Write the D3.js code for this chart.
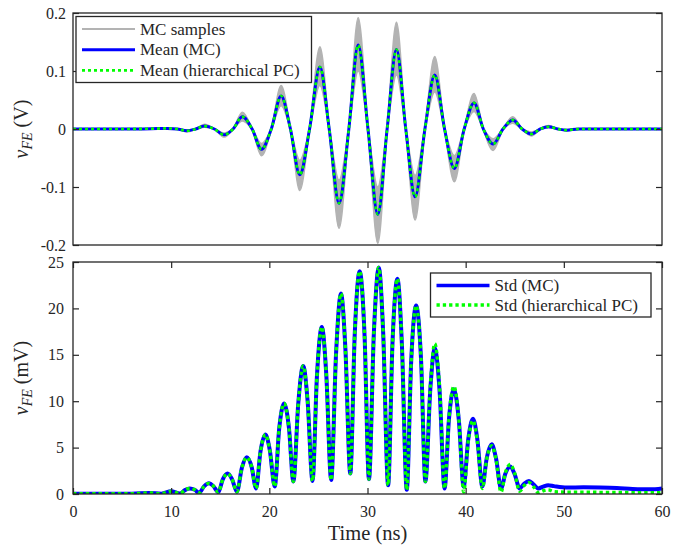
<!DOCTYPE html>
<html>
<head>
<meta charset="utf-8">
<script src="https://cdn.jsdelivr.net/npm/d3@7"></script>
<style>
  body { margin: 0; background: #fff; }
  svg text { font-family: "Liberation Serif", "DejaVu Serif", "Times New Roman", serif !important; fill: #262626; }
</style>
</head>
<body>
<div id="chart"></div>
<script>
// ---- data ----
// top panel: time (ns) of extrema / zero crossings
const tMean = [0,5,8,9.6,10.6, 11.6,12.5,13.4,14.4,15.4, 16.3,17.25,18.25,19.2,20.2, 21.2,22.15,23.1,24.1,25.15,
  26.1,27.1,28.1,29.05,30.05, 31.05,32,32.95,33.9,34.85, 35.85,36.85,37.85,38.85,39.85, 40.85,41.8,42.8,43.8,44.8,
  45.75,46.7,47.6,48.45,49.4, 50.3,51.5,60];
// mean voltage (V)
const meanMC = [0,0,0.0005,0.001,0, -0.003,0,0.005,0,-0.010, 0,0.021,0,-0.035,0, 0.057,0,-0.079,0,0.107,
  0,-0.128,0,0.145,0, -0.147,0,0.137,0,-0.117, 0,0.093,0,-0.068,0, 0.045,0,-0.026,0,0.0155,
  0,-0.0085,0,0.004,0, -0.002,0,0];
const meanPC = meanMC.slice(); // on top of the MC mean everywhere
// spread of the MC sample curves (largest / smallest amplitude)
const mcUpper = [0,0,0.001,0.002,0, -0.005,0,0.008,0,-0.014, 0,0.029,0,-0.046,0, 0.075,0,-0.106,0,0.142,
  0,-0.171,0,0.192,0, -0.197,0,0.184,0,-0.157, 0,0.125,0,-0.091,0, 0.061,0,-0.037,0,0.021,
  0,-0.012,0,0.006,0, -0.003,0,0];
const mcLower = [0,0,0,0.0005,0, -0.0015,0,0.003,0,-0.007, 0,0.014,0,-0.025,0, 0.040,0,-0.054,0,0.075,
  0,-0.088,0,0.100,0, -0.100,0,0.093,0,-0.080, 0,0.064,0,-0.046,0, 0.030,0,-0.017,0,0.010,
  0,-0.005,0,0.002,0, -0.001,0,0];

// bottom panel: std (mV)
const tStd = [0,6,7.8,9.0,10.0,10.9,11.4,11.9,12.4,12.85, 13.35,13.85,14.3,14.8,15.25,15.75,16.2,16.7,17.2,17.7,
  18.2,18.65,19.1,19.6,20.05,20.55,21.0,21.5,22.0,22.45, 22.95,23.45,23.9,24.4,24.85,25.35,25.8,26.3,26.8,27.3,
  27.75,28.25,28.7,29.2,29.7,30.15,30.65,31.15,31.6,32.1, 32.55,33.05,33.5,34.0,34.45,34.95,35.45,35.9,36.4,36.85,
  37.35,37.85,38.3,38.8,39.3,39.8,40.25,40.75,41.2,41.7, 42.15,42.65,43.1,43.6,44.05,44.55,45.0,45.5,45.95,46.45,
  46.9,47.4,47.9,48.4,49.0,50.3,52,53.7,55.4,57, 58.8,60];
const stdMC = [0.02,0.03,0.12,0.04,0.3,0.05,0.42,0.6,0.45,0.12, 0.82,1.15,0.85,0.2,1.55,2.2,1.6,0.25,2.8,3.95,
  2.9,0.6,4.6,6.4,4.7,0.8,7.0,9.75,7.1,1.35, 9.8,13.8,10.0,1.4,12.7,18.0,12.9,1.5,15.2,21.6,
  15.6,2.2,17.2,24.0,17.1,1.6,17.4,24.4,17.3,0.95, 16.4,23.2,16.2,0.45,14.3,20.3,14.6,1.35,11.3,15.7,
  11.0,0.6,8.1,11.3,8.0,0.8,5.8,8.1,5.8,0.8, 3.9,5.35,3.8,0.6,2.2,2.95,2.1,0.6,1.1,1.4,
  1.05,0.6,0.8,0.95,0.85,0.7,0.72,0.7,0.65,0.55, 0.5,0.6];
const stdPC = [0.02,0.03,0.12,0.04,0.3,0.05,0.42,0.6,0.45,0.12, 0.82,1.15,0.85,0.2,1.55,2.2,1.6,0.25,2.8,3.95,
  2.9,0.6,4.6,6.4,4.7,0.8,7.0,9.75,7.1,1.35, 9.8,13.8,10.0,1.4,12.7,18.0,12.9,1.5,15.2,21.6,
  15.6,2.2,17.2,24.0,17.1,1.6,17.4,24.4,17.3,0.95, 16.4,23.2,16.2,0.45,14.3,20.3,14.6,1.35,11.6,16.2,
  11.4,0.6,8.2,11.6,8.1,0.2,5.6,7.9,5.6,0.6, 3.8,5.2,3.7,0.2,2.3,3.2,2.2,0.3,0.9,1.25,
  0.8,0.15,0.35,0.45,0.25,0.2,0.2,0.18,0.18,0.15, 0.15,0.15];

// ticks + legends
const xTicks = [0,10,20,30,40,50,60];
const xTickLabels = ["0","10","20","30","40","50","60"];
const yTopTicks = [-0.2,-0.1,0,0.1,0.2];
const yTopTickLabels = ["-0.2","-0.1","0","0.1","0.2"];
const yBotTicks = [0,5,10,15,20,25];
const yBotTickLabels = ["0","5","10","15","20","25"];
const topLegend = ["MC samples","Mean (MC)","Mean (hierarchical PC)"];
const botLegend = ["Std (MC)","Std (hierarchical PC)"];

// ---- drawing ----
const W = 682, H = 545;
const axisCol = "#262626";
const gray = "#b3b3b3", blue = "#0000ff", green = "#00ff00";
const serif = "Liberation Serif, DejaVu Serif, serif";

const svg = d3.select("#chart").append("svg")
  .attr("width", W).attr("height", H)
  .attr("font-family", serif);

const x = d3.scaleLinear().domain([0, 60]).range([73, 662]);
const yTop = d3.scaleLinear().domain([-0.2, 0.2]).range([245, 13]);
const yBot = d3.scaleLinear().domain([0, 25]).range([494, 262]);

const defs = svg.append("defs");
defs.append("clipPath").attr("id", "clipTop").append("rect")
  .attr("x", x(0)).attr("y", yTop(0.2)).attr("width", x(60) - x(0)).attr("height", yTop(-0.2) - yTop(0.2));
defs.append("clipPath").attr("id", "clipBot").append("rect")
  .attr("x", x(0)).attr("y", yBot(25)).attr("width", x(60) - x(0)).attr("height", yBot(0) - yBot(25));

// top panel
let gTop = svg.append("g").attr("clip-path", "url(#clipTop)");

let band = d3.area()
  .x((d, i) => x(tMean[i]))
  .y0((d, i) => yTop(mcLower[i]))
  .y1((d, i) => yTop(mcUpper[i]))
  .curve(d3.curveMonotoneX);
gTop.append("path").datum(tMean).attr("d", band).attr("fill", gray);

let lineTop = arr => d3.line()
  .x((d, i) => x(tMean[i]))
  .y((d, i) => yTop(arr[i]))
  .curve(d3.curveMonotoneX)(tMean);

[mcUpper, mcLower].forEach(function(arr){
  gTop.append("path").attr("d", lineTop(arr))
    .attr("fill", "none").attr("stroke", gray).attr("stroke-width", 1.5);
});
gTop.append("path").attr("d", lineTop(meanMC))
  .attr("fill", "none").attr("stroke", blue).attr("stroke-width", 3);
gTop.append("path").attr("d", lineTop(meanPC))
  .attr("fill", "none").attr("stroke", green).attr("stroke-width", 2.6)
  .attr("stroke-dasharray", "3,3");

// bottom panel
let gBot = svg.append("g").attr("clip-path", "url(#clipBot)");
let lineBot = arr => d3.line()
  .x((d, i) => x(tStd[i]))
  .y((d, i) => yBot(arr[i]))
  .curve(d3.curveMonotoneX)(tStd);

gBot.append("path").attr("d", lineBot(stdMC))
  .attr("fill", "none").attr("stroke", blue).attr("stroke-width", 4);
gBot.append("path").attr("d", lineBot(stdPC))
  .attr("fill", "none").attr("stroke", green).attr("stroke-width", 3.4)
  .attr("stroke-dasharray", "3.4,3");

// axes
function styleAxis(g, showText){
  g.attr("font-family", serif).attr("font-size", 16);
  g.select(".domain").remove();
  g.selectAll(".tick line").attr("stroke", axisCol).attr("stroke-width", 1.2);
  g.selectAll(".tick text").attr("fill", axisCol);
  if (!showText) g.selectAll(".tick text").remove();
}

// top panel: y ticks left and right, no x ticks
svg.append("g").attr("transform", "translate(" + x(0) + ",0)")
  .call(d3.axisLeft(yTop).tickValues(yTopTicks).tickSize(-6).tickPadding(7)
    .tickFormat((d, i) => yTopTickLabels[i]))
  .call(g => styleAxis(g, true));
svg.append("g").attr("transform", "translate(" + x(60) + ",0)")
  .call(d3.axisRight(yTop).tickValues(yTopTicks).tickSize(-6))
  .call(g => styleAxis(g, false));

// bottom panel: ticks on all four sides
svg.append("g").attr("transform", "translate(" + x(0) + ",0)")
  .call(d3.axisLeft(yBot).tickValues(yBotTicks).tickSize(-6).tickPadding(9)
    .tickFormat((d, i) => yBotTickLabels[i]))
  .call(g => styleAxis(g, true));
svg.append("g").attr("transform", "translate(" + x(60) + ",0)")
  .call(d3.axisRight(yBot).tickValues(yBotTicks).tickSize(-6))
  .call(g => styleAxis(g, false));
svg.append("g").attr("transform", "translate(0," + yBot(0) + ")")
  .call(d3.axisBottom(x).tickValues(xTicks).tickSize(-6).tickPadding(12)
    .tickFormat((d, i) => xTickLabels[i]))
  .call(g => styleAxis(g, true));
svg.append("g").attr("transform", "translate(0," + yBot(25) + ")")
  .call(d3.axisTop(x).tickValues(xTicks).tickSize(-6))
  .call(g => styleAxis(g, false));

// frames
[[yTop(0.2), yTop(-0.2)], [yBot(25), yBot(0)]].forEach(function(r){
  svg.append("rect")
    .attr("x", x(0)).attr("y", r[0])
    .attr("width", x(60) - x(0)).attr("height", r[1] - r[0])
    .attr("fill", "none").attr("stroke", axisCol).attr("stroke-width", 1.3);
});

// axis labels
function yLabel(cx, cy, unit){
  let t = svg.append("text")
    .attr("transform", "translate(" + cx + "," + cy + ") rotate(-90)")
    .attr("text-anchor", "middle").attr("font-size", 20);
  t.append("tspan").attr("font-style", "italic").text("v");
  t.append("tspan").attr("font-style", "italic").attr("font-size", 14).attr("dy", 4).text("FE");
  t.append("tspan").attr("dy", -4).text(" (" + unit + ")");
}
yLabel(28, (yTop(0.2) + yTop(-0.2)) / 2, "V");
yLabel(28, (yBot(25) + yBot(0)) / 2, "mV");

svg.append("text")
  .attr("x", (x(0) + x(60)) / 2).attr("y", 540)
  .attr("text-anchor", "middle").attr("font-size", 20.5)
  .text("Time (ns)");

// legends
function legend(x0, y0, w, h, labels, styles, rowH){
  let g = svg.append("g");
  g.append("rect").attr("x", x0).attr("y", y0).attr("width", w).attr("height", h)
    .attr("fill", "#fff").attr("stroke", axisCol).attr("stroke-width", 1.3);
  labels.forEach(function(lab, i){
    let yy = y0 + 12.5 + i * rowH;
    let s = styles[i];
    g.append("line").attr("x1", x0 + 6).attr("x2", x0 + 59).attr("y1", yy).attr("y2", yy)
      .attr("stroke", s.c).attr("stroke-width", s.w)
      .attr("stroke-dasharray", s.dash || null);
    g.append("text").attr("x", x0 + 64).attr("y", yy).attr("dy", "0.33em")
      .attr("font-size", 17).text(lab);
  });
}
legend(76, 16.5, 235.5, 66, topLegend, [
  {c: gray, w: 2},
  {c: blue, w: 3},
  {c: green, w: 2.6, dash: "3,3"}
], 20.7);
legend(430.5, 273, 220.5, 44, botLegend, [
  {c: blue, w: 3.5},
  {c: green, w: 3.3, dash: "3.3,3"}
], 19.5);
</script>
</body>
</html>
